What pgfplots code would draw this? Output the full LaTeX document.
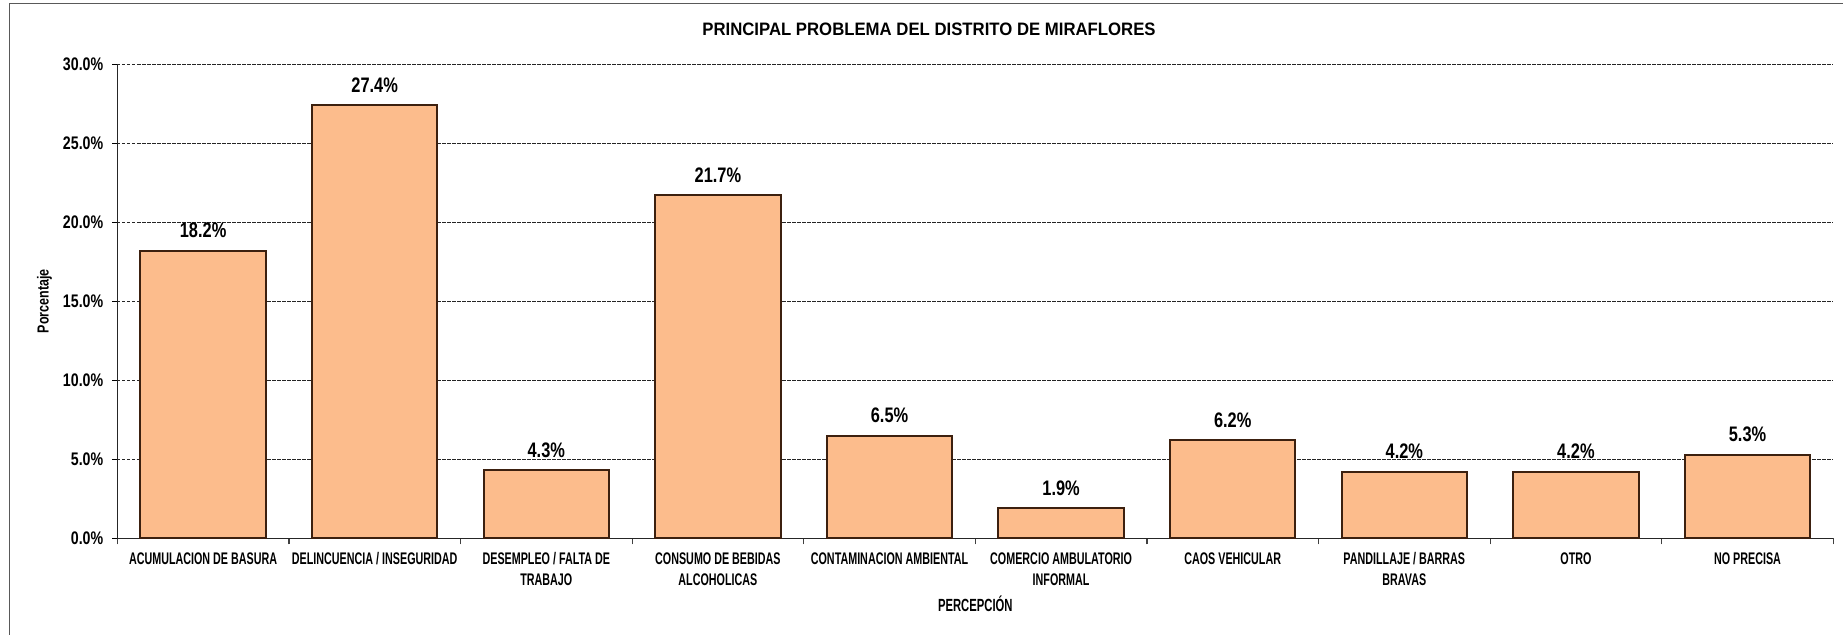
\documentclass[border=0pt]{standalone}
\usepackage{pgfplots}
\pgfplotsset{compat=1.18}
\usepackage{fontspec}
\setmainfont{Liberation Sans}
\newfontfamily\condA{Liberation Sans}[FakeStretch=0.78]
\newfontfamily\condB{Liberation Sans}[FakeStretch=0.64]
\newfontfamily\titlef{Liberation Sans}[FakeStretch=0.93]

\definecolor{barfill}{RGB}{252,188,140}
\definecolor{baredge}{RGB}{60,32,15}

\begin{document}
\begin{tikzpicture}
\useasboundingbox (0,0) rectangle (921.5pt,317.5pt);
\draw[black!65, line width=0.6pt] (4.75pt,-2pt) -- (4.75pt,315.6pt) -- (925pt,315.6pt);
\begin{axis}[
    at={(58.65pt,48.35pt)}, anchor=south west,
    width=858pt, height=237pt, scale only axis,
    ybar, bar width=0.73,
    xmin=-0.5, xmax=9.5,
    ymin=0, ymax=30,
    ytick={0,5,...,30},
    xtick={0,...,9},
    xticklabels={
        ACUMULACION DE BASURA,
        DELINCUENCIA / INSEGURIDAD,
        DESEMPLEO / FALTA DE\\TRABAJO,
        CONSUMO DE BEBIDAS\\ALCOHOLICAS,
        CONTAMINACION AMBIENTAL,
        COMERCIO AMBULATORIO\\INFORMAL,
        CAOS VEHICULAR,
        PANDILLAJE / BARRAS\\BRAVAS,
        OTRO,
        NO PRECISA},
    minor xtick={-0.5,0.5,...,9.5},
    every major x tick/.append style={draw=none},
    every minor x tick/.append style={draw=black!75, line width=0.6pt},
    minor tick length=3pt,
    major tick length=2.5pt,
    tick align=outside,
    axis lines*=left,
    axis line style={black!85, line width=0.6pt},
    ytick style={black, line width=0.6pt},
    ymajorgrids,
    grid style={black!85, line width=0.5pt, dash pattern=on 1.6pt off 0.9pt},
    /pgf/number format/assume math mode=true,
    yticklabel={\pgfmathprintnumber[fixed,fixed zerofill,precision=1]{\tick}\%},
    yticklabel style={font=\condA\bfseries\fontsize{9.1}{10}\selectfont, xshift=-1pt},
    xticklabel style={font=\condB\bfseries\fontsize{8.4}{10.5}\selectfont, align=center, anchor=north, yshift=-1pt},
    nodes near coords={\pgfmathprintnumber[fixed,fixed zerofill,precision=1]{\pgfplotspointmeta}\%},
    every node near coord/.append style={font=\condA\bfseries\fontsize{10.5}{12}\selectfont, anchor=south, inner sep=0pt, yshift=6pt, black},
    title={PRINCIPAL PROBLEMA DEL DISTRITO DE MIRAFLORES},
    every axis title shift=0pt,
    title style={font=\titlef\bfseries\fontsize{9}{10}\selectfont, at={(rel axis cs:0.473,1.0745)}, anchor=center},
    xlabel={PERCEPCIÓN},
    xlabel style={font=\condB\bfseries\fontsize{8.8}{10}\selectfont, at={(rel axis cs:0.5,-0.1386)}, anchor=center},
    ylabel={Porcentaje},
    ylabel style={font=\condA\bfseries\fontsize{8}{10}\selectfont, at={(rel axis cs:-0.0425,0.5)}, anchor=center, rotate=0},
    clip=false,
]
\addplot[fill=barfill, draw=baredge, line width=1pt] coordinates {
    (0,18.2) (1,27.4) (2,4.3) (3,21.7) (4,6.5)
    (5,1.9) (6,6.2) (7,4.2) (8,4.2) (9,5.3)
};
\end{axis}
\end{tikzpicture}
\end{document}
